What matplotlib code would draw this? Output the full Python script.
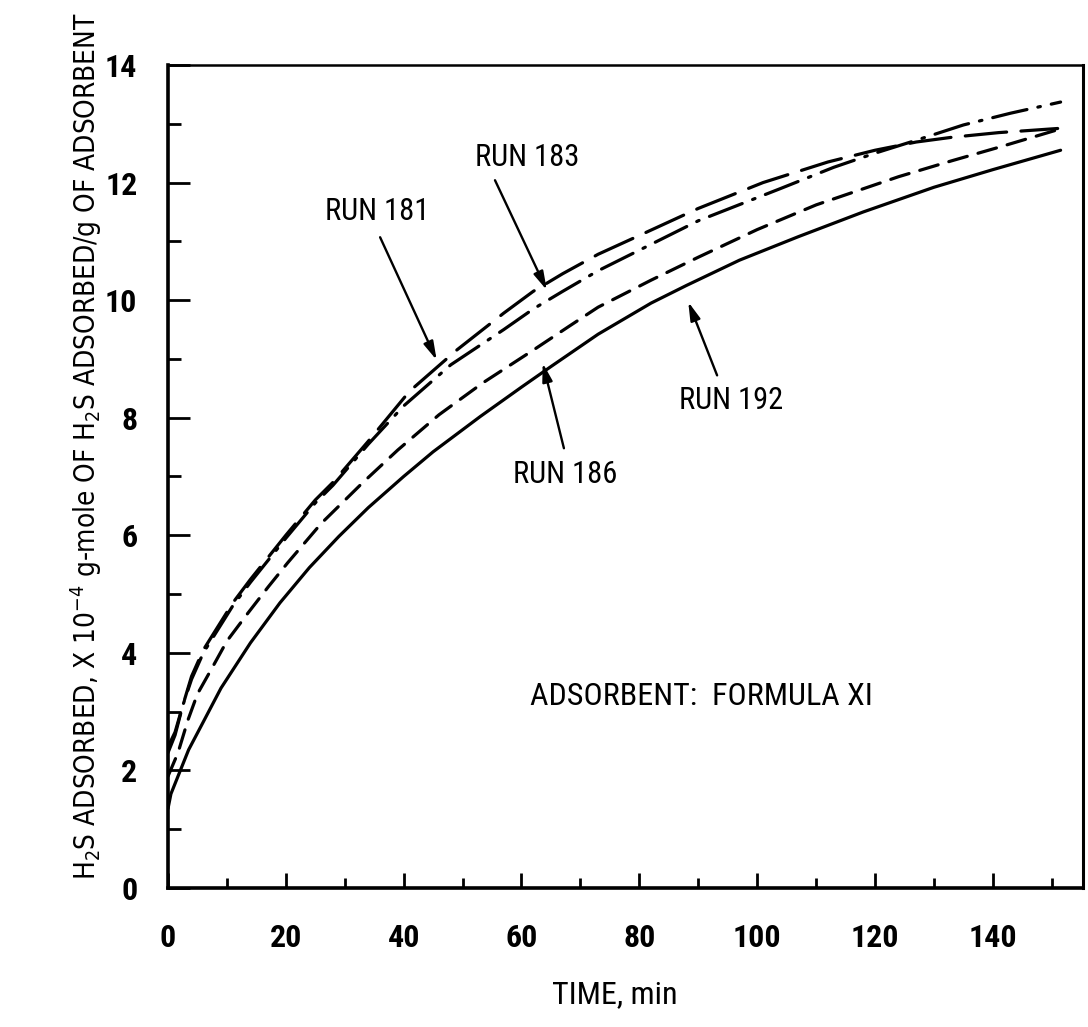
import os
import matplotlib
matplotlib.use('Agg')
import matplotlib.pyplot as plt
from matplotlib import font_manager
from matplotlib.font_manager import FontProperties

# H2S adsorbed vs time, four runs
run192_t = [0, 0.5, 1.7, 3.5, 5.6, 9, 14, 19, 24, 29, 34, 40, 45, 53, 60, 65, 73, 82, 88, 97, 107, 118, 130, 140, 151.5]
run192_y = [1.35, 1.6, 1.9, 2.35, 2.75, 3.4, 4.17, 4.85, 5.45, 5.98, 6.47, 7.0, 7.42, 8.02, 8.52, 8.87, 9.42, 9.95, 10.25, 10.68, 11.08, 11.5, 11.92, 12.22, 12.55]

run186_t = [0, 1.7, 3.4, 5, 7.3, 10, 13.6, 17, 20.3, 26, 33, 39, 46, 53.4, 62, 68, 73, 82, 90, 100, 110, 124, 133, 141, 150.7]
run186_y = [1.9, 2.3, 2.86, 3.3, 3.71, 4.2, 4.68, 5.12, 5.53, 6.2, 6.89, 7.45, 8.05, 8.59, 9.15, 9.55, 9.88, 10.34, 10.73, 11.2, 11.62, 12.1, 12.37, 12.6, 12.89]

run181_t = [0, 1.2, 2.5, 4, 6, 8.5, 11, 14, 16.4, 20, 25, 28, 34, 41, 49, 57, 62, 67, 73, 80, 90, 101, 112, 120, 127, 133, 141, 151]
run181_y = [2.3, 2.6, 3.1, 3.6, 4.05, 4.45, 4.85, 5.25, 5.55, 6.0, 6.6, 6.9, 7.6, 8.45, 9.15, 9.78, 10.15, 10.45, 10.78, 11.1, 11.56, 12.0, 12.35, 12.55, 12.69, 12.77, 12.85, 12.92]

run183_t = [0, 1.2, 2.5, 4, 6, 8.5, 11, 14, 16.4, 20, 25, 28, 34, 40, 48, 57, 62, 67, 73, 80, 90, 104, 113, 120, 127, 135, 143, 151.5]
run183_y = [2.4, 2.65, 3.1, 3.55, 4.0, 4.4, 4.8, 5.2, 5.5, 5.95, 6.55, 6.85, 7.55, 8.2, 8.9, 9.5, 9.85, 10.15, 10.5, 10.85, 11.35, 11.9, 12.26, 12.5, 12.72, 12.98, 13.18, 13.37]

x_ticks = [0, 20, 40, 60, 80, 100, 120, 140]
y_ticks = [0, 2, 4, 6, 8, 10, 12, 14]


def find_font(keys):
    # look for a narrow face by file name
    files = {}
    for f in font_manager.fontManager.ttflist:
        base = os.path.splitext(os.path.basename(f.fname))[0].lower()
        files[base.replace('-', '').replace('_', '')] = f.fname
    for k in keys:
        if k in files:
            return files[k]
    return None


reg_file = find_font(['liberationsansnarrowregular', 'liberationsansnarrow',
                      'notosanscondensed', 'robotocondensedregular',
                      'opensanscondensedregular', 'dejavusanscondensed'])
bold_file = find_font(['liberationsansnarrowbold', 'notosanscondensedsemibold',
                       'notosanscondensedbold', 'robotocondensedbold',
                       'opensanscondensedbold', 'dejavusanscondensedbold'])


def fp(size, bold=False):
    f = bold_file if bold else reg_file
    if f is None:
        return FontProperties(family='DejaVu Sans', stretch='condensed',
                              weight='bold' if bold else 'normal', size=size)
    return FontProperties(fname=f, size=size)


plt.rcParams['font.family'] = ['DejaVu Sans']
plt.rcParams['font.stretch'] = 'condensed'

fig = plt.figure(figsize=(10.88, 10.27), dpi=100)
ax = fig.add_axes([0.1544, 0.1354, 0.841, 0.8013])

lw = 2.3
ax.plot(run192_t, run192_y, color='black', lw=lw, solid_capstyle='round', solid_joinstyle='round')
ax.plot(run186_t, run186_y, color='black', lw=lw, dashes=(6, 3.5), dash_capstyle='round')
ax.plot(run181_t, run181_y, color='black', lw=lw, dashes=(13, 4.5), dash_capstyle='round')
ax.plot(run183_t, run183_y, color='black', lw=lw, dashes=(11, 3.5, 0.8, 3.5), dash_capstyle='round')

ax.set_xlim(0, 155.3)
ax.set_ylim(0, 14)

ax.set_xticks(x_ticks)
ax.set_xticks(range(10, 160, 20), minor=True)
ax.set_yticks(y_ticks)
ax.set_yticks(range(1, 14, 2), minor=True)
ax.set_xticklabels([str(v) for v in x_ticks], fontproperties=fp(23, True))
ax.set_yticklabels([str(v) for v in y_ticks], fontproperties=fp(23, True))
ax.tick_params(axis='x', which='major', direction='in', length=11, width=2, pad=25)
ax.tick_params(axis='x', which='minor', direction='in', length=7, width=2)
ax.tick_params(axis='y', which='major', direction='in', length=16, width=2, pad=22)
ax.tick_params(axis='y', which='minor', direction='in', length=9, width=2)

ax.spines['left'].set_linewidth(2.6)
ax.spines['bottom'].set_linewidth(2.6)
ax.spines['right'].set_linewidth(2.2)
ax.spines['top'].set_linewidth(1.8)

arrow = dict(arrowstyle='-|>,head_length=1.1,head_width=0.3', lw=1.7, color='black',
             shrinkA=0, shrinkB=0)

ax.text(35.5, 11.5, 'RUN 181', fontproperties=fp(22), ha='center', va='center')
ax.annotate('', xy=(45.6, 8.98), xytext=(36, 11.07), arrowprops=arrow)
ax.text(61, 12.43, 'RUN 183', fontproperties=fp(22), ha='center', va='center')
ax.annotate('', xy=(64.3, 10.17), xytext=(55.5, 12.04), arrowprops=arrow)
ax.text(67.4, 7.04, 'RUN 186', fontproperties=fp(22), ha='center', va='center')
ax.annotate('', xy=(63.6, 8.93), xytext=(67.2, 7.48), arrowprops=arrow)
ax.text(95.5, 8.3, 'RUN 192', fontproperties=fp(22), ha='center', va='center')
ax.annotate('', xy=(88.3, 9.97), xytext=(93.2, 8.72), arrowprops=arrow)

ax.text(61.4, 3.25, 'ADSORBENT:  FORMULA XI', fontproperties=fp(23), ha='left', va='center')

fig.text(615 / 1088, 1 - 995 / 1027, 'TIME, min', fontproperties=fp(23), ha='center', va='center')
fig.text(86 / 1088, 1 - 446 / 1027,
         'H$_2$S ADSORBED, X 10$^{-4}$ g-mole OF H$_2$S ADSORBED/g OF ADSORBENT',
         fontsize=20, rotation=90, ha='center', va='center')

fig.savefig('out.png', dpi=100)
